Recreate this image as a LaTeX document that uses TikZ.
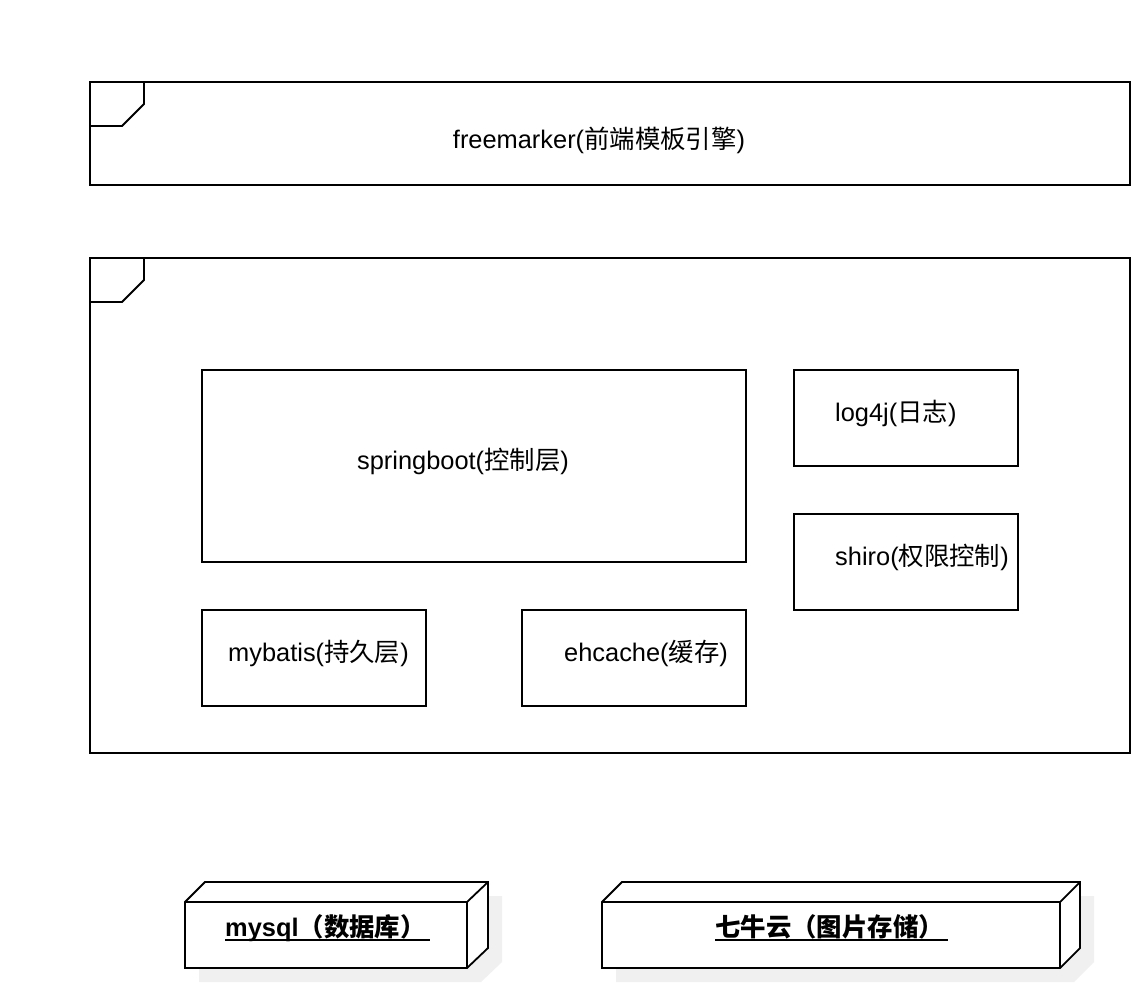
\documentclass[tikz,border=0pt]{standalone}
\usepackage{fontspec}
\setmainfont{Liberation Sans}
\newfontfamily\cjk{Noto Sans CJK SC}
\definecolor{shadowgray}{HTML}{F0F0F0}
\tikzset{
  ln/.style={line width=1.8pt, draw=black},
  frame/.style={ln, rectangle, anchor=north west, inner sep=0pt, outer sep=0pt},
  compbox/.style={ln, rectangle, anchor=north west, inner sep=0pt, outer sep=0pt},
  lbl/.style={font=\fontsize{25.4}{30}\selectfont, inner sep=0pt},
  blbl/.style={font=\fontsize{25.4}{30}\selectfont\bfseries, inner sep=0pt},
}
\begin{document}
\begin{tikzpicture}[x=1pt,y=-1pt]
\useasboundingbox (0,0) rectangle (1140,988);
\fill[white] (0,0) rectangle (1140,988);

% frames
\node[frame, minimum width=1040pt, minimum height=103pt] (f1) at (90,82) {};
\draw[ln] (144,82) -- (144,104) -- (122,126) -- (90,126);
\node[lbl] (t1) at (599,140) {freemarker({\cjk 前端模板引擎})};

\node[frame, minimum width=1040pt, minimum height=495pt] (f2) at (90,258) {};
\draw[ln] (144,258) -- (144,280) -- (122,302) -- (90,302);

% components
\node[compbox, minimum width=544pt, minimum height=192pt] (sb) at (202,370) {};
\node[lbl] (sbt) at (463,461) {springboot({\cjk 控制层})};

\node[compbox, minimum width=224pt, minimum height=96pt] (lg) at (794,370) {};
\node[lbl, anchor=west] (lgt) at (835,413) {log4j({\cjk 日志})};

\node[compbox, minimum width=224pt, minimum height=96pt] (sh) at (794,514) {};
\node[lbl, anchor=west] (sht) at (835,557) {shiro({\cjk 权限控制})};

\node[compbox, minimum width=224pt, minimum height=96pt] (mb) at (202,610) {};
\node[lbl, anchor=west] (mbt) at (228,653) {mybatis({\cjk 持久层})};

\node[compbox, minimum width=224pt, minimum height=96pt] (eh) at (522,610) {};
\node[lbl, anchor=west] (eht) at (564,653) {ehcache({\cjk 缓存})};

% 3D node: mysql
\fill[shadowgray] (199,916) -- (219,896) -- (502,896) -- (502,962) -- (481,982) -- (199,982) -- cycle;
\filldraw[ln, fill=white] (185,902) -- (205,882) -- (488,882) -- (488,948) -- (467,968) -- (185,968) -- cycle;
\draw[ln] (185,902) -- (467,902) -- (467,968);
\draw[ln] (467,902) -- (488,882);
\node[blbl, anchor=base west] (my) at (225,936) {mysql{\cjk （数据库）}};
\draw[line width=1.5pt] (225,940) -- (430,940);

% 3D node: qiniu
\fill[shadowgray] (616,916) -- (636,896) -- (1094,896) -- (1094,962) -- (1074,982) -- (616,982) -- cycle;
\filldraw[ln, fill=white] (602,902) -- (622,882) -- (1080,882) -- (1080,948) -- (1060,968) -- (602,968) -- cycle;
\draw[ln] (602,902) -- (1060,902) -- (1060,968);
\draw[ln] (1060,902) -- (1080,882);
\node[blbl, anchor=base west] (qn) at (715,936) {{\cjk 七牛云（图片存储）}};
\draw[line width=1.5pt] (715,940) -- (948,940);
\end{tikzpicture}
\end{document}
